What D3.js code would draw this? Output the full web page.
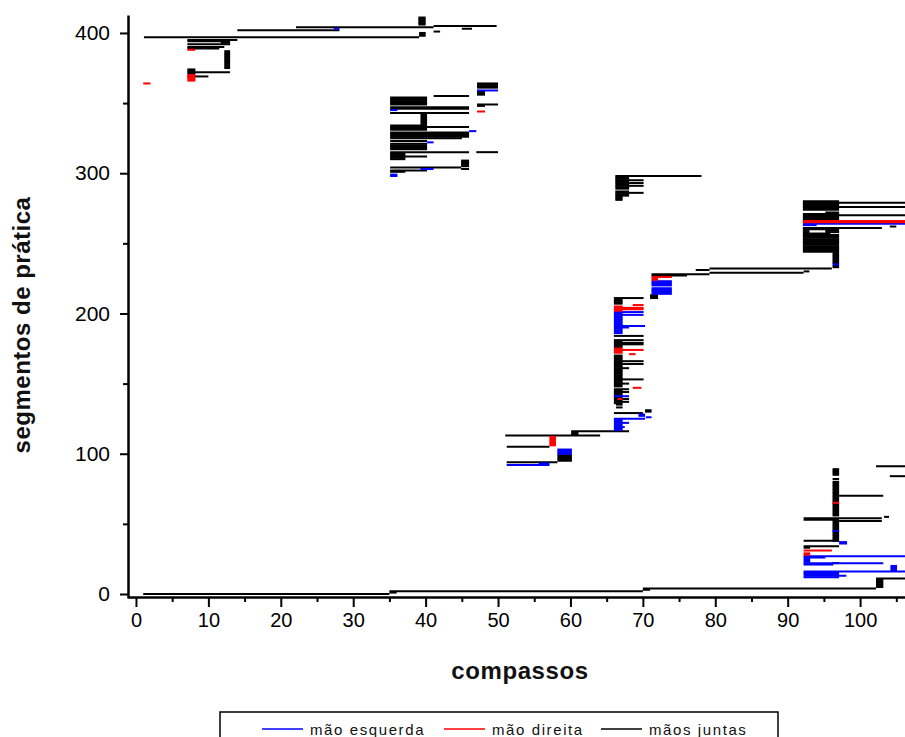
<!DOCTYPE html>
<html>
<head>
<meta charset="utf-8">
<script src="https://cdn.jsdelivr.net/npm/d3@7"></script>
<style>
  body { margin: 0; background: #fff; }
  svg { display: block; font-family: "Liberation Sans", Arial, sans-serif; }
</style>
</head>
<body>
<div id="chart-area"></div>
<script>
// cada registo: [segmento de prática, compasso inicial, compasso final]
const maosJuntas = [
  [0,1,35],[1,35,36],[2,35,70],[3,70,71],[4,70,102.2],
  [5,102.2,103.2],[6,102.2,103.2],[7,102.2,103.2],[8,102.2,103.2],[9,102.2,103.2],[10,102.2,103.2],[11,102.2,107],
  [22,96.1,97.1],[33,92.2,93.1],[34,92.2,97.1],[38,92.2,97.1],
  [38,96.2,97.1],[39,96.2,97.1],[40,96.2,97.1],[41,96.2,97.1],[42,96.2,97.1],[43,96.2,97.1],[44,96.2,97.1],[45,96.2,97.1],
  [46,96.2,97.1],[47,96.2,97.1],[48,96.2,97.1],[49,96.2,97.1],[50,96.2,97.1],[51,96.2,97.1],[52,96.2,97.1],
  [52,97.1,103],[53,92.2,97.1],[54,92.2,103],[55,103.3,104],
  [56,96.2,97.1],[57,96.2,97.1],[58,96.2,97.1],[59,96.2,97.1],[60,96.2,97.1],[61,96.2,97.1],[62,96.2,97.1],[63,96.2,97.1],
  [64,96.2,97.1],[65,96.2,97.1],[66,96.2,97.1],[67,96.2,97.1],[68,96.2,97.1],[69,96.2,97.1],[70,96.2,97.1],[71,96.2,97.1],
  [72,96.2,97.1],[73,96.2,97.1],[74,96.2,97.1],[75,96.2,97.1],[76,96.2,97.1],[77,96.2,97.1],[78,96.2,97.1],[79,96.2,97.1],
  [80,96.2,97.1],[70,97.1,103.2],[82,96.2,97.1],
  [84,104.1,107],[85,96.2,97.1],[86,96.2,97.1],[87,96.2,97.1],[88,96.2,97.1],[89,96.2,97.1],[91,102.2,107],
  [94,51.2,58.2],[95,58.2,60.2],[96,58.2,60.2],[97,58.2,60.2],[98,58.2,60.2],[99,58.2,60.2],
  [105,51.2,57.1],[113,51,64.1],[114,60.1,61.1],[115,60.1,61.1],[116,60.1,68.1],
  [129,66,70],[130,70.3,71.2],[131,70.3,71.2],[133,66.3,67.2],[135,66.3,67.2],
  [136,66,67.2],[137,66,68.1],[138,66,67.2],[139,66,68.1],[140,66,67.2],[141,66,67.2],[142,66,67.2],[143,66,67.2],
  [144,66,68.1],[145,66,67.2],[146,66,68.1],
  [148,66,67.2],[149,66,67.2],[150,66,68.1],[151,66,67.2],[152,66,67.2],[153,66,70.1],[154,66,67.2],[155,66,67.2],
  [156,66,67.2],[157,66,67.2],[158,66,67.2],[159,66,67.2],[160,66,67.2],[161,66,68.1],[162,66,67.2],[163,66,67.2],
  [164,66,70.1],[165,66,67.2],[166,66,70.1],[167,66,67.2],[168,66,67.2],[169,66,67.2],[170,66,67.2],
  [176,66,67.2],[177,66,67.2],[178,66,70.1],[179,66,70.1],[180,66,67.2],[181,66,70.1],[184,66,70.1],
  [207,66,67.2],[208,66,67.2],[209,66,67.2],[210,66,67.2],[211,66,70.1],
  [211,71,72.1],[212,71,72.1],[213,71,72.1],
  [227,71.2,76.1],[228,71.2,79.2],[229,79.2,92.2],[230,92.2,93],[231,77.3,79.2],[232,79.2,96.1],
  [233,96.2,97.1],[234,96.2,97.1],[236,96.2,97.1],[237,96.2,97.1],[238,96.2,97.1],[239,96.2,97.1],[240,96.2,97.1],
  [241,96.2,97.1],[242,96.2,97.1],[243,96.2,97.1],
  [244,92.1,97.1],[245,92.1,97.1],[246,92.1,97.1],[247,92.1,97.1],[248,92.1,97.1],[249,92.1,97.1],[250,92.1,97.1],
  [251,92.1,97.1],[252,92.1,97.1],[253,92.1,97.1],[254,92.1,97.1],[255,92.1,97.1],[256,92.1,97.1],[257,92.1,95.9],
  [258,92.1,93],[258,95.2,97.1],[259,92.1,93],[259,95.2,97.1],[260,92.1,97.1],[261,92.1,103],[262,104.1,105],
  [266,92.1,97.1],[267,92.1,97.1],[268,92.1,97.1],[269,92.1,97.1],[270,92.1,107],[271,92.1,97.1],[272,95.2,97.1],
  [274,92.1,97.1],[275,92.1,97.1],[276,92.1,107],[277,92.1,97.1],[278,92.1,97.1],[279,92.1,107],[280,92.1,97.1],
  [281,66.2,67.2],[282,66.2,67.2],[283,66.2,67.2],[284,66.2,68.1],[285,66.2,68.1],[286,66.2,70.1],[287,66.2,68.1],
  [289,66.2,68.1],[290,66.2,68.1],[291,66.2,70.1],[292,66.2,68.1],[293,66.2,70.1],[294,66.2,68.1],[295,66.2,70.1],
  [296,66.2,68.1],[297,66.2,68.1],[298,66.2,78.1],
  [301,35.1,37.2],[302,35.1,40.2],[303,44.9,46],[304,35.1,44.9],[305,44.9,46],[306,44.9,46],[307,44.9,46],
  [308,44.9,46],[309,44.9,46],[310,35.1,37.2],[311,35.1,37.2],[312,35.1,40.2],[313,35.1,37.2],[314,35.1,37.2],
  [315,35.1,46],[315,47,50],
  [317,35.1,40.2],[318,35.1,40.2],[319,35.1,40.2],[320,35.1,40.2],[321,35.1,40.2],[323,35.1,40.2],[325,35.1,45],
  [326,35.1,46],[327,35.1,46],[328,35.1,46],[329,35.1,46],
  [331,35.1,40.2],[332,35.1,40.2],[333,35.1,46],[334,35.1,40.2],
  [335,39.3,40.2],[336,39.3,40.2],[337,39.3,40.2],[338,39.3,40.2],[339,39.3,40.2],[340,39.3,40.2],[341,39.3,40.2],
  [342,39.3,40.2],[343,35.1,46],[346,35.1,46],[347,35.1,46],[348,47.1,48.2],[349,35.1,40.2],[349,47.1,50],
  [350,35.1,40.2],[351,35.1,40.2],[352,35.1,40.2],[353,35.1,40.2],[354,35.1,40.2],[355,41.1,46],
  [356,47.1,48.2],[357,47.1,48.2],[358,47.1,48.2],[361,47.1,50],[362,47.1,50],[363,47.1,50],[364,47.1,50],
  [369,7.1,10],[371,7.1,8.2],[372,7.1,13],[373,7.1,8.2],[374,7.1,8.2],
  [375,12.2,13],[376,12.2,13],[377,12.2,13],[378,12.2,13],[379,12.2,13],[380,12.2,13],[381,12.2,13],
  [382,12.2,13],[383,12.2,13],[384,12.2,13],[385,12.2,13],[386,12.2,13],[387,12.2,13],
  [389,7.1,11.5],[390,7.1,12.2],[392,7.1,13],[393,11.7,13],[394,7.1,13],[395,7.1,14],[397,1.1,39.1],
  [398,39.1,40],[399,39.1,40],[400,39.1,40],[401,41.1,42],[402,14,28.1],[403,45,46.4],[404,22.1,41.1],[405,41.1,49.8],
  [406,39,40],[407,39,40],[408,39,40],[409,39,40],[410,39,40],[411,39,40]
];

const maoEsquerda = [
  [12,92.2,97.1],[13,92.2,98.1],[14,92.2,97.1],[15,92.2,97.1],[16,92.2,107],
  [17,104.2,105.1],[18,104.2,105.1],[19,104.2,105.1],[20,104.2,105.1],
  [21,92.2,96.3],[22,92.2,103.2],[23,92.2,93.1],[24,92.2,93.1],[25,92.2,93.1],[26,92.2,95.2],[27,92.2,107],
  [36,97.1,98.2],[37,97.1,98.2],[45,96.2,97.1],
  [92,51.2,57.1],[93,55.6,57.1],[100,58.2,60.2],[101,58.2,60.2],[102,58.2,60.2],[103,58.2,60.2],
  [117,66,67.2],[118,66,67.2],[119,66,67.5],[120,66,67.2],[121,66,67.2],[122,66,68.1],[123,66,67.2],[124,66,67.2],
  [125,66,70.3],[126,70.4,71.2],[127,69.4,70.3],[128,69.4,70.3],[141,66,68.1],
  [186,66,67.2],[187,66,67.2],[188,66,67.2],[189,66,67.2],[190,66,68.1],[191,66,70.3],[192,66,67.2],[193,66,67.2],
  [194,66,67.2],[195,66,67.2],[196,66,67.2],[197,66,67.2],[198,66,67.2],[199,66,70.1],[200,66,67.2],[201,66,70.1],
  [214,71.2,74],[215,71.2,74],[216,71.2,74],[217,71.2,74],[218,71.2,74],
  [220,71.2,74],[221,71.2,74],[222,71.2,74],[223,71.2,74],
  [235,96.2,97.1],[263,92.1,94],[264,92.1,107],
  [298,35.1,36.1],[299,35.1,36.1],[303,39.3,41.1],[322,40.2,41.1],[330,46,47],[345,35.1,36.1],
  [359,47.1,50],[403,27.3,28.1]
];

const maoDireita = [
  [28,92.2,93.1],[29,92.2,93.1],[31,92.2,96.1],[65,96.2,97.1],
  [106,57.1,58],[107,57.1,58],[108,57.1,58],[109,57.1,58],[110,57.1,58],[111,57.1,58],[112,57.1,58],
  [139,66.5,67.2],[147,68.6,69.8],[171,68.1,69],
  [172,66,67.2],[173,66,67.2],[174,66,70.1],[175,66,67.2],
  [202,66,67.2],[203,66,70.1],[204,66,70.1],[205,66,67.2],[206,68.6,70.1],
  [224,71.2,72.1],[225,71.2,72.1],[226,71.2,74],[265,92.1,107],[266,92.1,107],
  [344,47.1,48.2],[364,1,2],
  [366,7.1,8.2],[367,7.1,8.2],[368,7.1,8.2],[369,7.1,8.2],[370,7.1,8.2],[388,7.1,8.2]
];

const xTicks = [0, 10, 20, 30, 40, 50, 60, 70, 80, 90, 100];
const xMinorTicks = [5, 15, 25, 35, 45, 55, 65, 75, 85, 95, 105];
const yTicks = [0, 100, 200, 300, 400];
const yMinorTicks = [50, 150, 250, 350];

const series = [
  { nome: "mãos juntas", cor: "#000000", dados: maosJuntas },
  { nome: "mão esquerda", cor: "#0000ff", dados: maoEsquerda },
  { nome: "mão direita", cor: "#ff0000", dados: maoDireita }
];
const legenda = [
  { nome: "mão esquerda", cor: "#0000ff", x: 262 },
  { nome: "mão direita", cor: "#ff0000", x: 444 },
  { nome: "mãos juntas", cor: "#000000", x: 601 }
];

const W = 905, H = 737;
const svg = d3.select("#chart-area").append("svg")
  .attr("width", W).attr("height", H);

const x = d3.scaleLinear().domain([-1.1, 106.2]).range([128, 905]);
const y = d3.scaleLinear().domain([-2.85, 412.8]).range([598, 15]);

svg.append("clipPath").attr("id", "plot-clip")
  .append("rect").attr("x", 129).attr("y", 0).attr("width", W - 129).attr("height", 597);

const plot = svg.append("g").attr("clip-path", "url(#plot-clip)");

series.forEach(s => {
  plot.append("g").selectAll("line")
    .data(s.dados)
    .enter().append("line")
    .attr("x1", d => x(d[1]))
    .attr("x2", d => x(d[2]))
    .attr("y1", d => y(d[0]))
    .attr("y2", d => y(d[0]))
    .attr("stroke", s.cor)
    .attr("stroke-width", 2);
});

// eixos
svg.append("g").attr("class", "x-axis").attr("transform", "translate(0,597)")
  .call(d3.axisBottom(x).tickValues(xTicks).tickSize(10).tickSizeOuter(0).tickPadding(6));
svg.append("g").attr("transform", "translate(0,597)")
  .call(d3.axisBottom(x).tickValues(xMinorTicks).tickSize(5).tickSizeOuter(0).tickFormat(""))
  .select(".domain").remove();

svg.append("g").attr("class", "y-axis").attr("transform", "translate(128,0)")
  .call(d3.axisLeft(y).tickValues(yTicks).tickSize(8).tickSizeOuter(0).tickPadding(10));
svg.append("g").attr("transform", "translate(128,0)")
  .call(d3.axisLeft(y).tickValues(yMinorTicks).tickSize(5).tickSizeOuter(0).tickFormat(""))
  .select(".domain").remove();

svg.selectAll(".domain").attr("stroke", "#000").attr("stroke-width", 2.5);
svg.selectAll(".tick line").attr("stroke", "#000").attr("stroke-width", 2);
svg.selectAll(".tick text")
  .attr("fill", "#000")
  .style("font-family", "'Liberation Sans', Arial, sans-serif");
svg.selectAll(".x-axis .tick text").style("font-size", "20px");
svg.selectAll(".y-axis .tick text").style("font-size", "21px");

// títulos
svg.append("text")
  .attr("x", 520).attr("y", 679)
  .attr("text-anchor", "middle")
  .style("font-size", "24px").style("font-weight", "bold").style("letter-spacing", "0.6px")
  .attr("fill", "#111")
  .text("compassos");

svg.append("text")
  .attr("transform", "translate(30,325) rotate(-90)")
  .attr("text-anchor", "middle")
  .style("font-size", "24px").style("font-weight", "bold").style("letter-spacing", "0.5px")
  .attr("fill", "#111")
  .text("segmentos de prática");

// legenda
svg.append("rect")
  .attr("x", 220).attr("y", 712).attr("width", 558).attr("height", 40)
  .attr("fill", "#fff").attr("stroke", "#000").attr("stroke-width", 1.5);

const items = svg.append("g").selectAll("g").data(legenda).enter().append("g");
items.append("line")
  .attr("x1", d => d.x).attr("x2", d => d.x + 41)
  .attr("y1", 729).attr("y2", 729)
  .attr("stroke", d => d.cor).attr("stroke-width", 1.5);
items.append("text")
  .attr("x", d => d.x + 48).attr("y", 735)
  .style("font-size", "15px").style("letter-spacing", "1.6px")
  .attr("fill", "#111")
  .text(d => d.nome);
</script>
</body>
</html>
